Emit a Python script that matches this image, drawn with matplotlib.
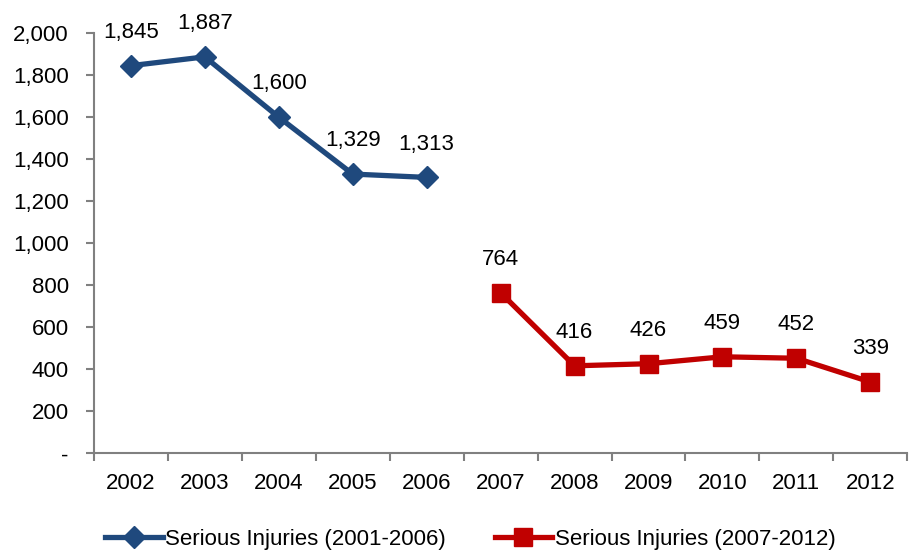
import matplotlib.pyplot as plt
import numpy as np

plt.rcParams['font.family'] = ['Liberation Sans', 'DejaVu Sans']

years = ['2002', '2003', '2004', '2005', '2006', '2007', '2008', '2009', '2010', '2011', '2012']
early_years = ['2002', '2003', '2004', '2005', '2006']
early_vals = [1845, 1887, 1600, 1329, 1313]
late_years = ['2007', '2008', '2009', '2010', '2011', '2012']
late_vals = [764, 416, 426, 459, 452, 339]
yticks = [0, 200, 400, 600, 800, 1000, 1200, 1400, 1600, 1800, 2000]

blue = '#1F497D'
red = '#C00000'
grey = '#808080'
fs = 16

fig = plt.figure(figsize=(9.11, 5.52), dpi=100)
ax = fig.add_axes([0.103, 0.179, 0.893, 0.761])

xe = [years.index(y) for y in early_years]
xl = [years.index(y) for y in late_years]
ax.plot(xe, early_vals, color=blue, lw=3.8, marker='D', ms=11,
        label='Serious Injuries (2001-2006)')
ax.plot(xl, late_vals, color=red, lw=3.8, marker='s', ms=12.5,
        label='Serious Injuries (2007-2012)')

for x, v in list(zip(xe, early_vals)) + list(zip(xl, late_vals)):
    ax.annotate(f'{v:,}', (x, v), xytext=(0, 24), textcoords='offset points',
                ha='center', va='center', fontsize=fs)

ax.set_xlim(-0.5, len(years) - 0.5)
ax.set_ylim(0, 2000)
ax.set_yticks(yticks)
ax.set_yticklabels(['-' if t == 0 else f'{t:,}' for t in yticks], fontsize=fs)
ax.set_xticks(np.arange(len(years)))
ax.set_xticklabels(years, fontsize=fs)
ax.set_xticks(np.arange(-0.5, len(years)), minor=True)
ax.tick_params(axis='x', which='major', length=0, pad=14)
ax.tick_params(axis='x', which='minor', length=6, color=grey, width=1.5)
ax.tick_params(axis='y', length=6, color=grey, width=1.5, pad=12)

for s in ['top', 'right']:
    ax.spines[s].set_visible(False)
for s in ['left', 'bottom']:
    ax.spines[s].set_color(grey)
    ax.spines[s].set_linewidth(1.5)

ax.legend(loc='center', bbox_to_anchor=(0.4625, -0.205), ncol=2, frameon=False,
          fontsize=fs, handlelength=2.6, handletextpad=0.1, columnspacing=2.2,
          borderpad=0)

fig.savefig('out.png', dpi=100)
